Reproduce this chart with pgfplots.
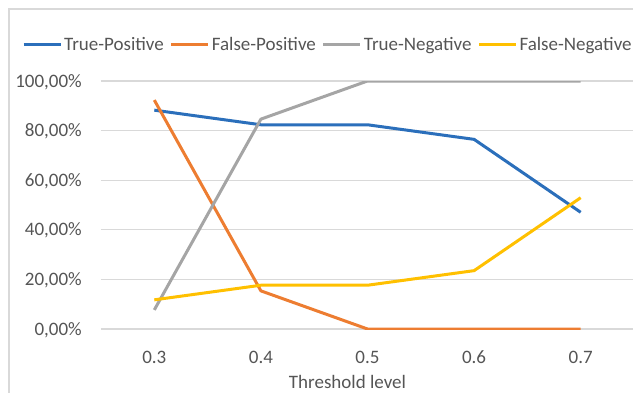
\documentclass[border=0pt]{standalone}
\usepackage{pgfplots}
\pgfplotsset{compat=1.18}
\usepackage{fontspec}
\setmainfont{Carlito}
\definecolor{cblue}{HTML}{2B6FBB}
\definecolor{corange}{HTML}{ED7D31}
\definecolor{cgray}{HTML}{A5A5A5}
\definecolor{cgold}{HTML}{FFC000}
\definecolor{txt}{HTML}{555555}
\definecolor{grid}{HTML}{D9D9D9}
\begin{document}
\begin{tikzpicture}[x=1pt,y=1pt]
\useasboundingbox (0,0) rectangle (633,392);
\clip (0,0) rectangle (633,392);
\draw[grid, line width=1.5pt] (9,-5) -- (9,383) -- (640,383);
\begin{axis}[
  at={(101pt,63pt)}, anchor=south west,
  scale only axis, width=533pt, height=248pt,
  xmin=-0.5, xmax=4.5, ymin=0, ymax=100,
  axis line style={draw=none},
  major tick style={draw=none},
  ymajorgrids,
  major grid style={color=grid, line width=1.3pt},
  xtick={0,1,2,3,4},
  xticklabels={0.3,0.4,0.5,0.6,0.7},
  ytick={0,20,40,60,80,100},
  yticklabels={{0,00\%},{20,00\%},{40,00\%},{60,00\%},{80,00\%},{100,00\%}},
  tick label style={font=\fontsize{19}{22}\selectfont, text=txt, inner sep=0pt},
  /pgf/number format/assume math mode=true,
  yticklabel style={anchor=base east, xshift=-19pt, yshift=-6pt},
  xticklabel style={anchor=base, yshift=-34pt},
  xlabel={Threshold level},
  every axis x label/.style={at={(axis description cs:0.4625,-0.2379)}, anchor=base, font=\fontsize{19}{22}\selectfont, text=txt, inner sep=0pt},
  legend columns=4,
  legend style={at={(axis description cs:-0.1482,1.1452)}, anchor=west, draw=none, fill=none, inner sep=0pt, column sep=2pt,
    nodes={inner sep=0pt, font=\fontsize{19}{22}\selectfont, text=txt},
    /tikz/every even column/.append style={column sep=6pt}},
  legend image code/.code={\draw[#1, line width=3pt] (0pt,0pt) -- (37pt,0pt);},
  every axis plot/.append style={line width=3pt, mark=none},
]
\addplot[cblue] coordinates {(0,88.24) (1,82.35) (2,82.35) (3,76.47) (4,47.06)};
\addlegendentry{True-Positive}
\addplot[corange] coordinates {(0,92.31) (1,15.38) (2,0) (3,0) (4,0)};
\addlegendentry{False-Positive}
\addplot[cgray] coordinates {(0,7.69) (1,84.62) (2,100) (3,100) (4,100)};
\addlegendentry{True-Negative}
\addplot[cgold] coordinates {(0,11.76) (1,17.65) (2,17.65) (3,23.53) (4,52.94)};
\addlegendentry{False-Negative}
\end{axis}
\end{tikzpicture}
\end{document}
